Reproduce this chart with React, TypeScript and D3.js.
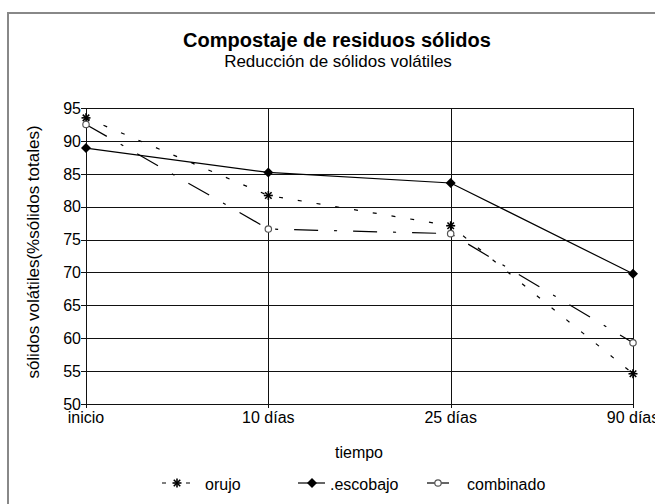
import React from "react";
import * as d3 from "d3";

const categories = ["inicio", "10 días", "25 días", "90 días"];
const orujo = [93.5, 81.7, 77.1, 54.6];
const escobajo = [88.9, 85.2, 83.6, 69.8];
const combinado = [92.5, 76.6, 75.9, 59.3];
const yTicks = [50, 55, 60, 65, 70, 75, 80, 85, 90, 95];

const W = 655;
const H = 504;
const FONT = "'Liberation Sans', Arial, Helvetica, sans-serif";

function Star({ x, y }: { x: number; y: number }) {
  const r = 4.5;
  const d = r * 0.72;
  return (
    <g stroke="#000" strokeWidth={1.6}>
      <line x1={x - r} y1={y} x2={x + r} y2={y} />
      <line x1={x} y1={y - r} x2={x} y2={y + r} />
      <line x1={x - d} y1={y - d} x2={x + d} y2={y + d} />
      <line x1={x - d} y1={y + d} x2={x + d} y2={y - d} />
    </g>
  );
}

function Diamond({ x, y }: { x: number; y: number }) {
  const r = 5;
  return <path d={`M${x},${y - r}L${x + r},${y}L${x},${y + r}L${x - r},${y}Z`} fill="#000" />;
}

function Circ({ x, y }: { x: number; y: number }) {
  return <circle cx={x} cy={y} r={3.2} fill="#fff" stroke="#555" strokeWidth={1.2} />;
}

export default function App() {
  const x = d3.scalePoint<string>().domain(categories).range([86, 633]).padding(0);
  const y = d3.scaleLinear().domain([50, 95]).range([404, 108]);
  const line = d3
    .line<number>()
    .x((_, i) => x(categories[i]) as number)
    .y((v) => y(v));

  const plotL = x(categories[0]) as number;
  const plotR = x(categories[categories.length - 1]) as number;

  return (
    <svg
      width={W}
      height={H}
      style={{ position: "absolute", left: 0, top: 0, background: "#fff" }}
      fontFamily={FONT}
    >
      <rect x={0} y={0} width={W} height={H} fill="#fff" />
      <rect x={8} y={13} width={700} height={600} fill="none" stroke="#888" strokeWidth={2} />

      <text x={337} y={47} textAnchor="middle" fontSize={20} fontWeight="bold" fill="#000">
        Compostaje de residuos sólidos
      </text>
      <text x={338} y={67} textAnchor="middle" fontSize={17} fill="#000">
        Reducción de sólidos volátiles
      </text>

      {yTicks.map((t) => (
        <g key={t}>
          <line x1={plotL - 5} x2={plotR} y1={Math.round(y(t)) + 0.5} y2={Math.round(y(t)) + 0.5} stroke="#111" strokeWidth={1} />
          <text x={81} y={y(t)} dy="0.36em" textAnchor="end" fontSize={16} fill="#000">
            {t}
          </text>
        </g>
      ))}

      {categories.map((c) => (
        <g key={c}>
          <line
            x1={Math.round(x(c) as number) + 0.5}
            x2={Math.round(x(c) as number) + 0.5}
            y1={y(95)}
            y2={y(50) + 4}
            stroke="#111"
            strokeWidth={1}
          />
          <text x={x(c) as number} y={423} textAnchor="middle" fontSize={16} fill="#000">
            {c}
          </text>
        </g>
      ))}

      <text
        transform={`translate(39,252) rotate(-90)`}
        textAnchor="middle"
        fontSize={17}
        fill="#000"
      >
        sólidos volátiles(%sólidos totales)
      </text>
      <text x={359} y={458} textAnchor="middle" fontSize={16} fill="#000">
        tiempo
      </text>

      <path d={line(escobajo) || ""} fill="none" stroke="#000" strokeWidth={1.2} />
      <path d={line(orujo) || ""} fill="none" stroke="#000" strokeWidth={1.2} strokeDasharray="4 15" />
      <path d={line(combinado) || ""} fill="none" stroke="#000" strokeWidth={1.2} strokeDasharray="24 16 3 16" />

      {escobajo.map((v, i) => (
        <Diamond key={"e" + i} x={x(categories[i]) as number} y={y(v)} />
      ))}
      {orujo.map((v, i) => (
        <Star key={"o" + i} x={x(categories[i]) as number} y={y(v)} />
      ))}
      {combinado.map((v, i) => (
        <Circ key={"c" + i} x={x(categories[i]) as number} y={y(v)} />
      ))}

      <g fontSize={16} fill="#000">
        <line x1={162} x2={190} y1={483} y2={483} stroke="#000" strokeWidth={1.2} strokeDasharray="4 20" />
        <Star x={177} y={483} />
        <text x={205} y={490}>orujo</text>

        <line x1={298} x2={325} y1={483} y2={483} stroke="#000" strokeWidth={1.2} />
        <Diamond x={312} y={483} />
        <text x={330} y={490}>.escobajo</text>

        <line x1={427} x2={449} y1={483} y2={483} stroke="#000" strokeWidth={1.2} />
        <Circ x={438} y={483} />
        <text x={467} y={490}>combinado</text>
      </g>
    </svg>
  );
}
